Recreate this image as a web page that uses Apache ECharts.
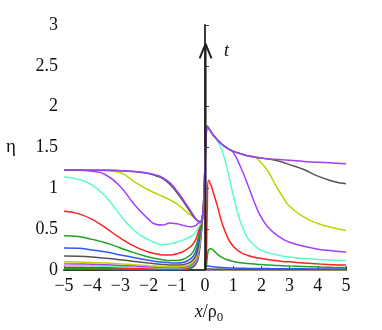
<!DOCTYPE html>
<html><head><meta charset="utf-8">
<script src="https://cdn.jsdelivr.net/npm/echarts@6/dist/echarts.min.js"></script>
<style>html,body{margin:0;padding:0;background:#fff}#c{width:382px;height:330px}</style>
</head><body><div id="c"></div>
<script>
// x positions (x/rho0)
const xs = [-5,-4.5,-4,-3.5,-3,-2.5,-2,-1.75,-1.5,-1.25,-1,-0.75,-0.5,-0.35,-0.25,-0.15,-0.08,-0.02,0.04,0.08,0.12,0.2,0.3,0.45,0.6,0.8,1,1.25,1.5,1.75,2,2.25,2.5,2.75,3,3.5,4,4.5,5];
const xTicks = [-5,-4,-3,-2,-1,0,1,2,3,4,5];
const yTicks = [0,0.5,1,1.5,2,2.5,3];
// curves in time order (earliest first)
const eta01 = [0.01,0.01,0.009,0.008,0.007,0.006,0.005,0.005,0.004,0.004,0.004,0.006,0.02,0.06,0.13,0.38,0.65,0.85,0,0,0,0,0,0,0,0,0,0,0,0,0,0,0,0,0,0,0,0,0];
const eta02 = [0.02,0.02,0.019,0.017,0.015,0.013,0.011,0.01,0.009,0.009,0.009,0.012,0.03,0.07,0.15,0.4,0.66,0.85,0,0,0,0,0,0,0,0,0,0,0,0,0,0,0,0,0,0,0,0,0];
const eta03 = [0.035,0.034,0.032,0.03,0.026,0.022,0.019,0.017,0.016,0.015,0.015,0.019,0.04,0.08,0.17,0.42,0.68,0.85,0.001,0.001,0.001,0.001,0.001,0.001,0.001,0.001,0.001,0.001,0.001,0.001,0.001,0.001,0.001,0.001,0.001,0.001,0.001,0.001,0.001];
const eta04 = [0.055,0.054,0.051,0.047,0.041,0.035,0.03,0.027,0.025,0.023,0.023,0.027,0.05,0.095,0.19,0.44,0.68,0.85,0.002,0.002,0.002,0.002,0.002,0.002,0.002,0.002,0.002,0.002,0.002,0.002,0.002,0.002,0.002,0.002,0.002,0.002,0.002,0.002,0.002];
const eta05 = [0.075,0.073,0.07,0.064,0.056,0.048,0.04,0.036,0.033,0.031,0.03,0.035,0.06,0.11,0.21,0.46,0.68,0.85,0.003,0.003,0.003,0.003,0.003,0.003,0.003,0.003,0.003,0.003,0.003,0.003,0.003,0.003,0.003,0.003,0.003,0.003,0.003,0.003,0.003];
const eta06 = [0.1,0.098,0.093,0.085,0.075,0.064,0.053,0.048,0.043,0.04,0.039,0.045,0.075,0.13,0.24,0.48,0.68,0.85,0.004,0.006,0.006,0.006,0.005,0.005,0.005,0.004,0.004,0.004,0.004,0.004,0.004,0.004,0.004,0.004,0.004,0.004,0.004,0.004,0.004];
const eta07 = [0.17,0.167,0.158,0.143,0.125,0.105,0.085,0.076,0.068,0.062,0.06,0.068,0.1,0.16,0.27,0.5,0.68,0.85,0.01,0.012,0.012,0.011,0.01,0.009,0.008,0.008,0.007,0.007,0.006,0.006,0.006,0.006,0.005,0.005,0.005,0.005,0.005,0.005,0.005];
const eta08 = [0.27,0.265,0.245,0.22,0.185,0.15,0.12,0.105,0.095,0.088,0.085,0.095,0.14,0.21,0.32,0.52,0.68,0.85,0.03,0.05,0.05,0.045,0.04,0.035,0.03,0.027,0.024,0.022,0.02,0.019,0.018,0.017,0.016,0.015,0.015,0.014,0.013,0.012,0.012];
const eta09 = [0.42,0.41,0.375,0.33,0.27,0.21,0.16,0.14,0.125,0.115,0.115,0.135,0.19,0.27,0.38,0.55,0.68,0.85,0.02,0.15,0.24,0.26,0.24,0.19,0.155,0.125,0.105,0.09,0.08,0.072,0.066,0.06,0.056,0.052,0.048,0.042,0.037,0.033,0.03];
const eta10 = [0.72,0.69,0.62,0.51,0.39,0.29,0.22,0.2,0.185,0.185,0.2,0.23,0.29,0.36,0.45,0.57,0.68,0.9,0.1,0.75,1.1,1.05,0.94,0.77,0.58,0.4,0.29,0.22,0.18,0.155,0.14,0.125,0.115,0.105,0.1,0.085,0.075,0.065,0.06];
const eta11 = [1.14,1.11,1.04,0.89,0.67,0.48,0.37,0.33,0.31,0.32,0.34,0.37,0.41,0.45,0.51,0.58,0.68,1.1,1.62,1.76,1.74,1.7,1.65,1.58,1.47,1.22,0.92,0.6,0.4,0.3,0.24,0.21,0.19,0.17,0.16,0.14,0.13,0.12,0.115];
const eta12 = [1.22,1.22,1.21,1.16,1.02,0.8,0.62,0.56,0.55,0.575,0.565,0.545,0.53,0.54,0.57,0.59,0.68,1.1,1.62,1.76,1.74,1.7,1.65,1.59,1.54,1.49,1.44,1.27,1.06,0.83,0.64,0.52,0.44,0.38,0.34,0.29,0.255,0.235,0.22];
const eta13 = [1.22,1.22,1.22,1.215,1.19,1.08,0.98,0.94,0.9,0.86,0.81,0.74,0.67,0.63,0.6,0.59,0.68,1.1,1.62,1.76,1.74,1.7,1.65,1.59,1.54,1.49,1.455,1.425,1.4,1.385,1.31,1.2,1.04,0.9,0.78,0.65,0.57,0.52,0.485];
const eta14 = [1.22,1.22,1.22,1.22,1.215,1.205,1.18,1.155,1.12,1.05,0.95,0.83,0.7,0.63,0.6,0.59,0.68,1.1,1.62,1.76,1.74,1.7,1.65,1.59,1.54,1.49,1.455,1.425,1.4,1.385,1.37,1.36,1.345,1.32,1.29,1.23,1.15,1.09,1.055];
const eta15 = [1.225,1.225,1.22,1.22,1.215,1.205,1.185,1.165,1.13,1.07,0.97,0.85,0.72,0.64,0.6,0.59,0.68,1.1,1.62,1.76,1.74,1.7,1.65,1.59,1.54,1.49,1.455,1.425,1.4,1.385,1.37,1.36,1.355,1.35,1.345,1.33,1.32,1.31,1.3];
const curves = [eta01,eta02,eta03,eta04,eta05,eta06,eta07,eta08,eta09,eta10,eta11,eta12,eta13,eta14,eta15];
const palette = ['#3355ff','#22a022','#ff2020','#5cffbe','#a040ff','#bfd400','#555555'];
const colorOf = i => i === curves.length - 1 ? '#a040ff' : palette[i % 7];

const series = curves.map((ys, i) => ({
  type: 'line', data: xs.map((x, j) => [x, ys[j]]), showSymbol: false, symbol: 'none',
  smooth: 0.5,
  lineStyle: { color: colorOf(i), width: 1.5 }, z: 2 + i, silent: true
}));
// time arrow
series.push({ type: 'line', data: [[0.02, 0], [0.02, 2.77]], symbol: 'none', lineStyle: { color: '#222', width: 2 }, z: 40, silent: true });
series.push({ type: 'line', data: [[-0.19, 2.59], [0.02, 2.77], [0.23, 2.59]], symbol: 'none', lineStyle: { color: '#222', width: 2 }, z: 40, silent: true });

const serif = '"Liberation Serif", "Times New Roman", serif';
const minus = v => String(v).replace('-', '\u2212');
const chart = echarts.init(document.getElementById('c'), null, { renderer: 'canvas' });
chart.setOption({
  animation: false,
  textStyle: { fontFamily: serif },
  grid: { left: 64, right: 36, top: 25, bottom: 60 },
  xAxis: {
    type: 'value', min: xTicks[0], max: xTicks[xTicks.length - 1], interval: 1,
    axisLine: { onZero: false, lineStyle: { color: '#3a3a3a', width: 2 } },
    axisTick: { inside: true, length: 4, lineStyle: { color: '#3a3a3a' } },
    splitLine: { show: false },
    axisLabel: { color: '#111', fontFamily: serif, fontSize: 18, margin: 7, formatter: minus },
    name: '{i|x}{n|/ρ}{s|0}', nameLocation: 'middle', nameGap: 31,
    nameTextStyle: { padding: [0, 0, 0, 8], rich: {
      i: { fontFamily: serif, fontStyle: 'italic', fontSize: 18, color: '#111' },
      n: { fontFamily: serif, fontSize: 18, color: '#111' },
      s: { fontFamily: serif, fontSize: 13, color: '#111', padding: [10, 0, 0, 0] }
    } }
  },
  yAxis: {
    type: 'value', min: yTicks[0], max: yTicks[yTicks.length - 1], interval: 0.5,
    axisLine: { show: true, lineStyle: { color: '#3a3a3a', width: 2 } },
    axisTick: { show: true, inside: true, length: 4, lineStyle: { color: '#3a3a3a' } },
    splitLine: { show: false },
    axisLabel: { color: '#111', fontFamily: serif, fontSize: 18, margin: 6 },
    name: 'η', nameLocation: 'middle', nameGap: 48, nameRotate: 0,
    nameTextStyle: { fontFamily: serif, fontSize: 19, color: '#111' }
  },
  graphic: [{ type: 'text', left: 224, top: 42, style: { text: 't', font: 'italic 18px "Liberation Serif"', fill: '#111' } }],
  series
});
</script></body></html>
